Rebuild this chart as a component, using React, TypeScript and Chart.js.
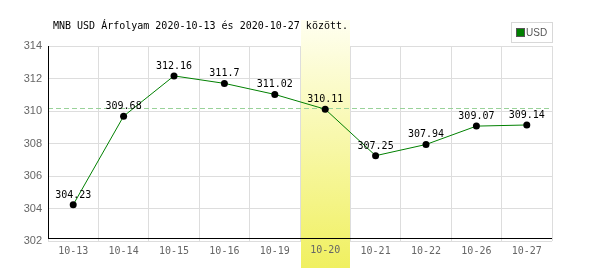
import React, { useEffect, useRef } from "react";
import { Chart, registerables } from "chart.js";

Chart.register(...registerables);

const categories = ["10-13", "10-14", "10-15", "10-16", "10-19", "10-20", "10-21", "10-22", "10-26", "10-27"];
const usdValues = [304.23, 309.68, 312.16, 311.7, 311.02, 310.11, 307.25, 307.94, 309.07, 309.14];
const valueLabels = ["304.23", "309.68", "312.16", "311.7", "311.02", "310.11", "307.25", "307.94", "309.07", "309.14"];
const highlightIndex = 5;
const titleText = "MNB USD Árfolyam 2020-10-13 és 2020-10-27 között.";
const legendLabel = "USD";

const MONO = "'DejaVu Sans Mono', monospace";

export default function App() {
  const ref = useRef<HTMLCanvasElement>(null);
  useEffect(() => {
    const canvas = ref.current!;
    const decor = {
      id: "decor",
      beforeDatasetsDraw(chart: any) {
        const { ctx, scales } = chart;
        const x = scales.x;
        const y = scales.y;
        const cx = x.getPixelForValue(highlightIndex);
        const half = (x.getPixelForValue(1) - x.getPixelForValue(0)) / 2;
        const g = ctx.createLinearGradient(0, 20, 0, 268);
        g.addColorStop(0, "rgba(255,255,240,1)");
        g.addColorStop(1, "rgba(240,240,96,1)");
        ctx.save();
        ctx.fillStyle = g;
        ctx.fillRect(Math.round(cx - half) + 1, 20, Math.round(2 * half) - 1, 248);
        // re-draw highlighted tick label
        ctx.fillStyle = "#666";
        ctx.font = "10px " + MONO;
        ctx.textAlign = "center";
        ctx.textBaseline = "middle";
        ctx.fillText(categories[highlightIndex], cx, 250);
        // dashed line at highlighted value
        const hy = Math.floor(y.getPixelForValue(usdValues[highlightIndex])) - 0.5;
        ctx.strokeStyle = "#99d299";
        ctx.lineWidth = 1;
        ctx.setLineDash([5, 3]);
        ctx.beginPath();
        ctx.moveTo(chart.chartArea.left, hy);
        ctx.lineTo(chart.chartArea.right, hy);
        ctx.stroke();
        ctx.setLineDash([]);
        // axes
        ctx.strokeStyle = "#000";
        const by = Math.round(y.getPixelForValue(302.2)) + 0.5;
        ctx.beginPath();
        ctx.moveTo(chart.chartArea.left, by);
        ctx.lineTo(chart.chartArea.right, by);
        ctx.moveTo(chart.chartArea.left + 0.5, chart.chartArea.top);
        ctx.lineTo(chart.chartArea.left + 0.5, by);
        ctx.stroke();
        ctx.restore();
      },
      afterDatasetsDraw(chart: any) {
        const { ctx } = chart;
        const meta = chart.getDatasetMeta(0);
        ctx.save();
        ctx.font = "10px " + MONO;
        ctx.fillStyle = "#000";
        ctx.textAlign = "center";
        ctx.textBaseline = "alphabetic";
        meta.data.forEach((p: any, i: number) => {
          ctx.fillText(valueLabels[i], p.x, p.y - 7);
        });
        // title
        ctx.textAlign = "left";
        ctx.fillText(titleText, 53, 29);
        // legend
        ctx.fillStyle = "#fff";
        ctx.strokeStyle = "#d8d8d8";
        ctx.fillRect(511, 22, 42, 21);
        ctx.strokeRect(511.5, 22.5, 41, 20);
        ctx.fillStyle = "#008000";
        ctx.fillRect(517, 29, 7, 7);
        ctx.strokeStyle = "#555";
        ctx.strokeRect(516.5, 28.5, 8, 8);
        ctx.fillStyle = "#555";
        ctx.font = "10px 'Liberation Sans Narrow', 'Liberation Sans', sans-serif";
        ctx.textBaseline = "middle";
        ctx.fillText(legendLabel, 526, 33);
        ctx.restore();
      },
    };
    const chart = new Chart(canvas, {
      type: "line",
      data: {
        labels: categories,
        datasets: [
          {
            label: legendLabel,
            data: usdValues,
            borderColor: "#008000",
            borderWidth: 1,
            pointRadius: 3.5,
            pointBackgroundColor: "#000",
            pointBorderColor: "#000",
            pointBorderWidth: 0,
            tension: 0,
          },
        ],
      },
      options: {
        animation: false,
        responsive: false,
        events: [],
        layout: { padding: { top: 46, right: 48, left: 0, bottom: 0 } },
        plugins: { legend: { display: false }, tooltip: { enabled: false } },
        scales: {
          x: {
            offset: true,
            grid: { offset: true, color: "#dddddd", drawTicks: false },
            border: { display: false },
            ticks: { color: "#666", font: { family: MONO, size: 10 }, padding: 4, maxRotation: 0 },
            afterFit(s: any) { s.height = 29; },
          },
          y: {
            min: 302,
            max: 314,
            ticks: { stepSize: 2, color: "#666", font: { family: "'Liberation Sans', sans-serif", size: 11 }, padding: 6 },
            grid: { color: "#dddddd", drawTicks: false },
            border: { display: false },
            afterFit(s: any) { s.width = 48; },
          },
        },
      },
      plugins: [decor],
    });
    return () => chart.destroy();
  }, []);
  return (
    <div style={{ position: "fixed", left: 0, top: 0, width: 600, height: 270, background: "#fff" }}>
      <canvas ref={ref} width={600} height={270} />
    </div>
  );
}
